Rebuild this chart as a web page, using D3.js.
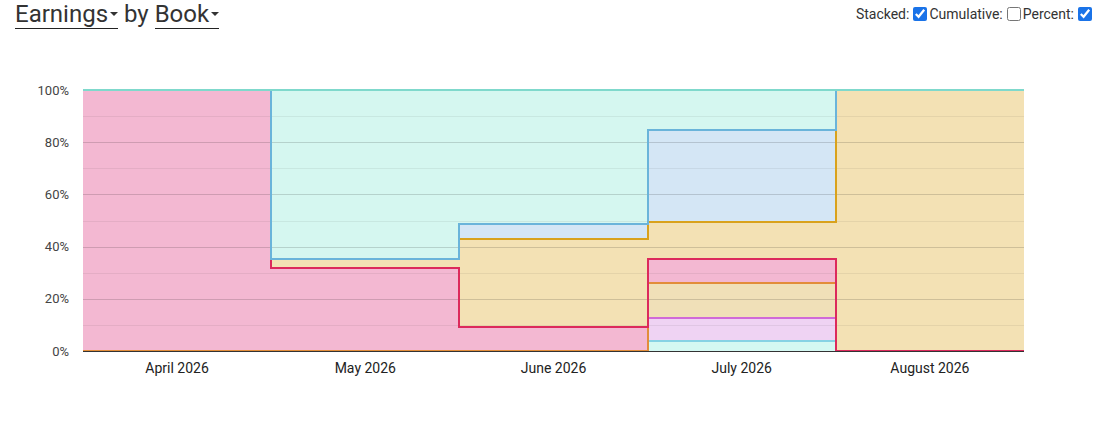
<!DOCTYPE html>
<html>
<head>
<meta charset="utf-8">
<script src="https://cdn.jsdelivr.net/npm/d3@7"></script>
<style>
  html, body { margin: 0; padding: 0; background: #fff; }
  body { width: 1108px; height: 423px; position: relative; font-family: Roboto, "Noto Sans", sans-serif; overflow: hidden; }
  #title { position: absolute; left: 15px; top: 0px; font-size: 24px; color: #333; white-space: nowrap; }
  #title .dd { display: inline-block; border-bottom: 1.5px solid #222; padding-bottom: 0px; line-height: 28px; }
  #title .caret { display: inline-block; width: 0; height: 0; border-left: 4px solid transparent; border-right: 4px solid transparent; border-top: 4px solid #333; vertical-align: middle; margin-left: 2px; position: relative; top: -2px; }
  #controls { position: absolute; right: 14px; top: 6px; font-size: 14px; color: #333; white-space: nowrap; }
  #controls input { width: 14px; height: 14px; margin: 0 2px 0 4px; vertical-align: -2px; accent-color: #1a73e8; }
  svg { position: absolute; left: 0; top: 0; }
</style>
</head>
<body>
<div id="title"><span class="dd">Earnings<span class="caret"></span></span> by <span class="dd">Book<span class="caret"></span></span></div>
<div id="controls">Stacked:<input type="checkbox" checked>Cumulative:<input type="checkbox">Percent:<input type="checkbox" checked></div>
<svg id="chart" width="1108" height="423"></svg>
<script>
// ---- data ----
const categories = ["April 2026", "May 2026", "June 2026", "July 2026", "August 2026"];
const seriesNames = ["Book 1", "Book 2", "Book 3", "Book 4", "Book 5", "Book 6", "Book 7"];
const book1 = [0, 0, 0, 3.8, 0];
const book2 = [0, 0, 0, 8.8, 0];
const book3 = [0, 0, 0, 13.4, 0];
const book4 = [100, 31.8, 9.2, 9.2, 0];
const book5 = [0, 3.4, 33.7, 14.2, 100];
const book6 = [0, 0, 5.8, 35.3, 0];
const book7 = [0, 64.8, 51.3, 15.3, 0];
const seriesValues = [book1, book2, book3, book4, book5, book6, book7];
const yTicks = [0, 0.2, 0.4, 0.6, 0.8, 1.0];
const yMinorTicks = [0.1, 0.3, 0.5, 0.7, 0.9];
const lineColors = ["#86d2e4", "#d06ad8", "#e28d3a", "#dc2a5c", "#d9a21c", "#6ab4da", "#7fd9cc"];
const fillColors = ["#d4f8f2", "#efd3f3", "#f0e0b8", "#f3b8d2", "#f3e1b4", "#d4e6f5", "#d5f7f0"];

// ---- layout ----
const svg = d3.select("#chart");
const plotLeft = 83, plotRight = 1024, plotTop = 90, plotBottom = 351;

const rows = categories.map((c, i) => {
  const r = { i };
  seriesNames.forEach((s, k) => r[s] = seriesValues[k][i]);
  return r;
});
// extra point to close the last step
const ext = rows.concat([Object.assign({}, rows[rows.length - 1], { i: rows.length })]);

const stack = d3.stack().keys(seriesNames).offset(d3.stackOffsetExpand);
const stacked = stack(ext);

const x = d3.scaleLinear().domain([0, categories.length]).range([plotLeft, plotRight]);
const xBand = d3.scaleBand().domain(categories).range([plotLeft, plotRight]);
const y = d3.scaleLinear().domain([0, 1]).range([plotBottom, plotTop]);
const xr = v => Math.round(x(v));
const yr = v => Math.round(y(v));

const area = d3.area().curve(d3.curveStepAfter)
  .x(d => xr(d.data.i)).y0(d => yr(d[0])).y1(d => yr(d[1]));
const line = d3.line().curve(d3.curveStepAfter)
  .x(d => xr(d.data.i)).y(d => yr(d[1]));

// areas
svg.append("g").selectAll("path").data(stacked).join("path")
  .attr("d", area).attr("fill", (d, k) => fillColors[k]);

// gridlines
const grid = svg.append("g");
grid.selectAll("line.minor").data(yMinorTicks).join("line").attr("class", "minor")
  .attr("x1", plotLeft).attr("x2", plotRight)
  .attr("y1", d => yr(d) + 0.5).attr("y2", d => yr(d) + 0.5)
  .attr("stroke", "rgba(0,0,0,0.06)").attr("stroke-width", 1);
grid.selectAll("line.major").data(yTicks.filter(t => t > 0 && t < 1)).join("line").attr("class", "major")
  .attr("x1", plotLeft).attr("x2", plotRight)
  .attr("y1", d => yr(d) + 0.5).attr("y2", d => yr(d) + 0.5)
  .attr("stroke", "rgba(0,0,0,0.15)").attr("stroke-width", 1);

// series lines
svg.append("g").selectAll("path").data(stacked).join("path")
  .attr("d", line).attr("fill", "none")
  .attr("stroke", (d, k) => lineColors[k]).attr("stroke-width", 2);

// baseline
svg.append("line").attr("x1", plotLeft).attr("x2", plotRight)
  .attr("y1", yr(0) + 0.5).attr("y2", yr(0) + 0.5).attr("stroke", "#333").attr("stroke-width", 1);

// y axis labels
const yAxis = d3.axisLeft(y).tickValues(yTicks).tickFormat(d3.format(".0%")).tickSize(0).tickPadding(14);
const yg = svg.append("g").attr("transform", `translate(${plotLeft},0)`).call(yAxis);
yg.select(".domain").remove();
yg.selectAll("text").attr("font-family", "Roboto, sans-serif").attr("font-size", 13).attr("fill", "#444");

// x axis labels
const xAxis = d3.axisBottom(xBand).tickSize(0).tickPadding(12);
const xg = svg.append("g").attr("transform", `translate(0,${plotBottom})`).call(xAxis);
xg.select(".domain").remove();
xg.selectAll("text").attr("font-family", "Roboto, sans-serif").attr("font-size", 14).attr("fill", "#222");
</script>
</body>
</html>
